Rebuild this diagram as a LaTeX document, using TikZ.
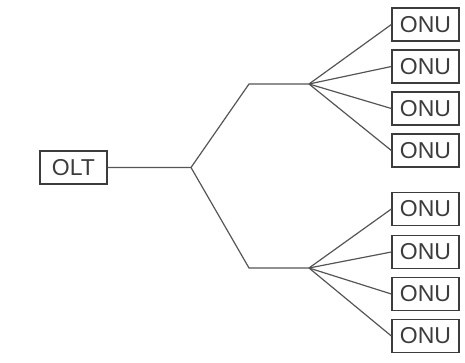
\documentclass[tikz,border=0pt]{standalone}
\usepackage{fontspec}
\setmainfont{Liberation Sans}
\usepackage{xcolor}
\usepackage{tikz}

\definecolor{linegray}{HTML}{555555}
\definecolor{textgray}{HTML}{3C3C3C}

\begin{document}
\begin{tikzpicture}[x=1pt,y=-1pt,
		unit/.style={draw=textgray,line width=1.3pt,minimum width=67pt,minimum height=33pt,
			inner sep=0pt,font=\fontsize{23}{23}\selectfont,text=textgray},
		fibre/.style={draw=linegray,line width=1.2pt}]
				\useasboundingbox (0,0) rectangle (465,362);
				\node[unit] (olt) at (73.5,167.5) {OLT};
				% splitter points
				\coordinate (s0) at (191,167.5);
				\coordinate (a1) at (249,84);
				\coordinate (t1) at (309,84);
				\coordinate (a2) at (249,268);
				\coordinate (t2) at (309,268);
				% upper group
				\node[unit] (onu1) at (425.5,24.5) {ONU};
				\node[unit] (onu2) at (425.5,66.5) {ONU};
				\node[unit] (onu3) at (425.5,108.5) {ONU};
				\node[unit] (onu4) at (425.5,150.5) {ONU};
				% lower group
				\node[unit] (onu5) at (425.5,209) {ONU};
				\node[unit] (onu6) at (425.5,252) {ONU};
				\node[unit] (onu7) at (425.5,294) {ONU};
				\node[unit] (onu8) at (425.5,336) {ONU};
				\draw[fibre] (olt.east) -- (s0) -- (a1) -- (t1);
				\draw[fibre] (s0) -- (a2) -- (t2);
				\draw[fibre] (t1) -- (onu1.west);
				\draw[fibre] (t1) -- (onu2.west);
				\draw[fibre] (t1) -- (onu3.west);
				\draw[fibre] (t1) -- (onu4.west);
				\draw[fibre] (t2) -- (onu5.west);
				\draw[fibre] (t2) -- (onu6.west);
				\draw[fibre] (t2) -- (onu7.west);
				\draw[fibre] (t2) -- (onu8.west);
		\end{tikzpicture}
\end{document}
